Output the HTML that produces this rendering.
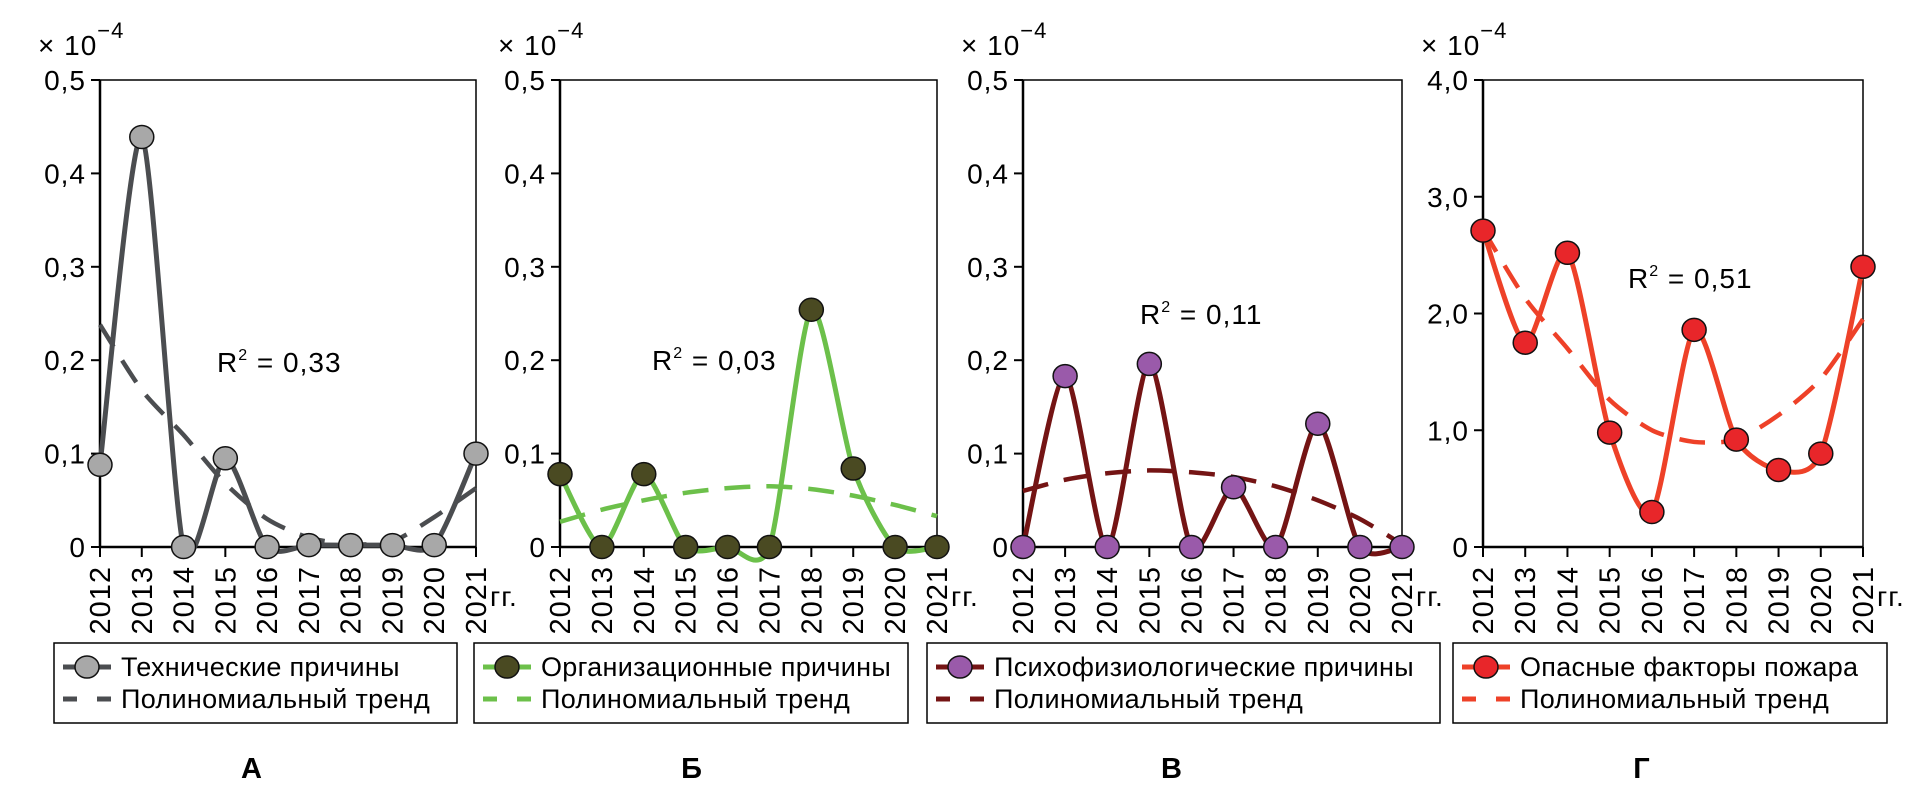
<!DOCTYPE html>
<html><head><meta charset="utf-8"><style>
html,body{margin:0;padding:0;background:#fff;}
svg{display:block;font-family:"Liberation Sans",Arial,sans-serif;}
text{letter-spacing:1px;}
text.leg{letter-spacing:0.3px;}
</style></head><body>
<svg id="fig" width="1919" height="793" viewBox="0 0 1919 793" xmlns="http://www.w3.org/2000/svg"></svg>
<script>
const years = ['2012','2013','2014','2015','2016','2017','2018','2019','2020','2021'];
const techValues = [0.088,0.439,0,0.095,0,0.002,0.002,0.002,0.002,0.10];
const techTrend = [0.238,0.168,0.12,0.068,0.03,0.01,0.003,0.006,0.032,0.063];
const orgValues = [0.078,0,0.078,0,0,0,0.254,0.084,0,0];
const orgTrend = [0.027,0.04,0.05,0.058,0.063,0.065,0.062,0.055,0.045,0.033];
const psyValues = [0,0.183,0,0.196,0,0.064,0,0.132,0,0];
const psyTrend = [0.06,0.072,0.079,0.082,0.08,0.075,0.065,0.05,0.03,0.003];
const fireValues = [2.71,1.75,2.52,0.98,0.30,1.86,0.92,0.66,0.80,2.40];
const fireTrend = [2.72,2.13,1.70,1.26,1.0,0.9,0.92,1.13,1.44,1.95];
const smallTicks = ['0','0,1','0,2','0,3','0,4','0,5'];
const bigTicks = ['0','1,0','2,0','3,0','4,0'];
const smallTickVals = [0,0.1,0.2,0.3,0.4,0.5];
const bigTickVals = [0,1,2,3,4];
const r2Labels = ['0,33','0,03','0,11','0,51'];
const seriesNames = ['Технические причины','Организационные причины','Психофизиологические причины','Опасные факторы пожара'];
const panelLetters = ['А','Б','В','Г'];

const NS='http://www.w3.org/2000/svg';
const svg=document.getElementById('fig');
function mk(tag,attrs,parent){const e=document.createElementNS(NS,tag);for(const k in attrs)e.setAttribute(k,attrs[k]);(parent||svg).appendChild(e);return e;}
function smooth(pts){let d='M'+pts[0][0]+','+pts[0][1];const k=8;for(let i=0;i<pts.length-1;i++){const p0=pts[Math.max(i-1,0)],p1=pts[i],p2=pts[i+1],p3=pts[Math.min(i+2,pts.length-1)];const c1x=p1[0]+(p2[0]-p0[0])/k,c1y=p1[1]+(p2[1]-p0[1])/k,c2x=p2[0]-(p3[0]-p1[0])/k,c2y=p2[1]-(p3[1]-p1[1])/k;d+=' C'+c1x+','+c1y+' '+c2x+','+c2y+' '+p2[0]+','+p2[1];}return d;}

const panels=[
 {x0:100,x1:476,values:techValues,trend:techTrend,ticks:smallTicks,tv:smallTickVals,max:0.5,line:'#4b4d50',fill:'#a8a8a8',r2x:217,r2y:372,leg:[54,457],lab:252},
 {x0:560,x1:937,values:orgValues,trend:orgTrend,ticks:smallTicks,tv:smallTickVals,max:0.5,line:'#6cc04a',fill:'#4a4a22',r2x:652,r2y:370,leg:[474,908],lab:692},
 {x0:1023,x1:1402,values:psyValues,trend:psyTrend,ticks:smallTicks,tv:smallTickVals,max:0.5,line:'#741414',fill:'#9a5aaa',r2x:1140,r2y:324,leg:[927,1440],lab:1172},
 {x0:1483,x1:1863,values:fireValues,trend:fireTrend,ticks:bigTicks,tv:bigTickVals,max:4,line:'#ee4128',fill:'#e8262a',r2x:1628,r2y:288,leg:[1453,1887],lab:1642}
];
const yTop=80,yZero=547;

panels.forEach((p,pi)=>{
 const g=mk('g',{});
 
 
 const xs=i=>p.x0+(p.x1-p.x0)*i/(years.length-1);
 const ys=v=>yZero-(yZero-yTop)*v/p.max;
 const fr=mk('rect',{x:p.x0,y:yTop,width:p.x1-p.x0,height:yZero-yTop,fill:'none',stroke:'#000','stroke-width':1.5},g);
 
 mk('line',{x1:p.x0,y1:yTop,x2:p.x0,y2:yZero,stroke:'#000','stroke-width':2.5},g);
 mk('line',{x1:p.x0,y1:yZero,x2:p.x1,y2:yZero,stroke:'#000','stroke-width':2.5},g);
 p.tv.forEach((v,i)=>{
  const y=ys(v);
  mk('line',{x1:p.x0-9,y1:y,x2:p.x0,y2:y,stroke:'#000','stroke-width':2},g);
  const t=mk('text',{x:p.x0-14,y:y+10,'font-size':28,'text-anchor':'end',fill:'#000'},g);
  t.textContent=p.ticks[i];
  
 });
 const ex=mk('text',{x:p.x0-62,y:55,'font-size':28,fill:'#000'},g);
 
 ex.innerHTML='× 10<tspan dy="-17" font-size="22">−4</tspan>';
 years.forEach((yr,i)=>{
  const x=xs(i);
  mk('line',{x1:x,y1:yZero,x2:x,y2:yZero+10,stroke:'#000','stroke-width':2},g);
  const t=mk('text',{x:x+10,y:566,'font-size':29,'text-anchor':'end',fill:'#000',transform:'rotate(-90 '+(x+10)+' 566)'},g);
  t.textContent=yr;
  
 });
 const gg=mk('text',{x:p.x1+14,y:606,'font-size':28,fill:'#000'},g);
 gg.textContent='гг.';
 
 const tp=mk('path',{d:smooth(p.trend.map((v,i)=>[xs(i),ys(v)])),fill:'none',stroke:p.line,'stroke-width':4.5,'stroke-dasharray':'26 16'},g);
 
 const sp=mk('path',{d:smooth(p.values.map((v,i)=>[xs(i),ys(v)])),fill:'none',stroke:p.line,'stroke-width':5},g);
 
 p.values.forEach((v,i)=>{
  const c=mk('ellipse',{cx:xs(i),cy:ys(v),rx:12,ry:11.5,fill:p.fill,stroke:'#111','stroke-width':1.5},g);
  
 });
 const r=mk('text',{x:p.r2x,y:p.r2y,'font-size':28,fill:'#000'},g);
 
 r.innerHTML='R<tspan dy="-12" font-size="16">2</tspan><tspan dy="12"> = '+r2Labels[pi]+'</tspan>';
 const lg=mk('g',{},g);
 
 const L=p.leg[0];
 mk('rect',{x:L,y:643,width:p.leg[1]-L,height:80,fill:'#fff',stroke:'#000','stroke-width':1.5},lg);
 mk('line',{x1:L+9,y1:667,x2:L+57,y2:667,stroke:p.line,'stroke-width':5},lg);
 mk('ellipse',{cx:L+33,cy:667,rx:12,ry:11,fill:p.fill,stroke:'#111','stroke-width':1.5},lg);
 mk('line',{x1:L+9,y1:699,x2:L+57,y2:699,stroke:p.line,'stroke-width':5,'stroke-dasharray':'14 20'},lg);
 const t1=mk('text',{x:L+67,y:676,'font-size':27,fill:'#000','class':'leg'},lg);
 t1.textContent=seriesNames[pi];
 
 const t2=mk('text',{x:L+67,y:708,'font-size':27,fill:'#000','class':'leg'},lg);
 t2.textContent='Полиномиальный тренд';
 
 const pl=mk('text',{x:p.lab,y:778,'font-size':29,'font-weight':'bold','text-anchor':'middle',fill:'#000'},g);
 pl.textContent=panelLetters[pi];
 
});
</script>
</body></html>
